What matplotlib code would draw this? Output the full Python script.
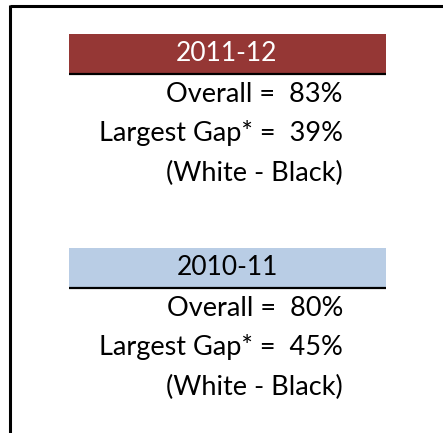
import matplotlib.pyplot as plt
from matplotlib.patches import Rectangle

# two summary panels, newest first
years = ['2011-12', '2010-11']
overall = [83, 80]
largest_gap = [39, 45]
gap_groups = ['(White - Black)', '(White - Black)']
header_colors = ['#953735', '#B9CDE5']
header_text_colors = ['white', 'black']

plt.rcParams['font.family'] = ['Lato', 'DejaVu Sans']

fig = plt.figure(figsize=(4.43, 4.33), dpi=100)
ax = fig.add_axes([0, 0, 1, 1])
ax.set_xlim(0, 443)
ax.set_ylim(433, 0)
ax.axis('off')

# frame: top and left only
ax.plot([10, 443], [6, 6], color='black', lw=2.2, solid_capstyle='butt')
ax.plot([10, 10], [5, 433], color='black', lw=2.2, solid_capstyle='butt')

tops = [34, 248]
for i, yr in enumerate(years):
    top = tops[i]
    ax.add_patch(Rectangle((69, top), 317, 39, facecolor=header_colors[i], edgecolor='none'))
    ax.plot([69, 386], [top + 39.5, top + 39.5], color='black', lw=1.6, solid_capstyle='butt')
    ax.text(227, top + 19.5, yr, color=header_text_colors[i], fontsize=19,
            ha='center', va='center')
    lines = ['Overall =  %d%%' % overall[i],
             'Largest Gap* =  %d%%' % largest_gap[i],
             gap_groups[i]]
    for j, s in enumerate(lines):
        ax.text(343, top + 60 + j * 39.5, s, fontsize=19.5, ha='right', va='center')

fig.savefig('out.png', dpi=100)
